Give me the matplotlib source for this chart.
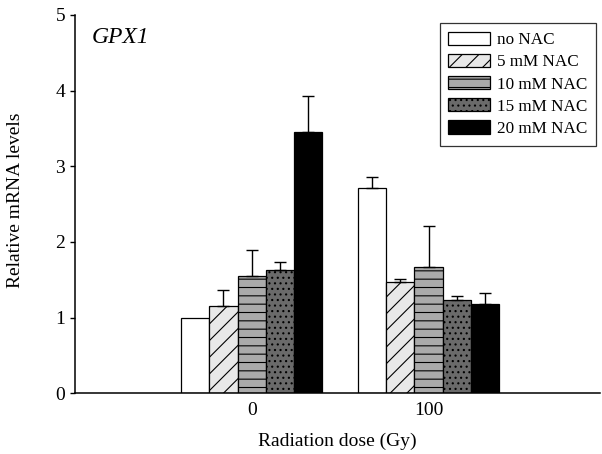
import numpy as np
import matplotlib
matplotlib.use("Agg")
import matplotlib.pyplot as plt

plt.rcParams['font.family'] = ['Liberation Serif', 'DejaVu Serif']
plt.rcParams['hatch.linewidth'] = 0.8

# data
doses = ['0', '100']
groups = ['no NAC', '5 mM NAC', '10 mM NAC', '15 mM NAC', '20 mM NAC']
means = [
    [1.00, 2.71],
    [1.16, 1.475],
    [1.555, 1.665],
    [1.635, 1.23],
    [3.45, 1.18],
]
errs = [
    [0.00, 0.145],
    [0.20, 0.04],
    [0.34, 0.55],
    [0.10, 0.06],
    [0.48, 0.15],
]
fills = ['white', '#e8e8e8', '#aaaaaa', '#6a6a6a', 'black']
hatches = [None, '//', '--', '...', None]

fig = plt.figure(figsize=(6.02, 4.54), dpi=100)
ax = fig.add_axes([75/602, 1-393.3/454, 525/602, 378.3/454])

x = np.arange(len(doses))
w = 0.16
for i in range(len(groups)):
    pos = x + (i - 2) * w
    ax.bar(pos, means[i], w, color=fills[i], edgecolor='black', linewidth=0.9,
           hatch=hatches[i], label=groups[i], zorder=2)
    # no error bar where none was shown
    e = np.array(errs[i])
    keep = e > 0
    ax.errorbar(pos[keep], np.array(means[i])[keep], yerr=[np.zeros(keep.sum()), e[keep]],
                fmt='none', ecolor='black', elinewidth=1.0, capsize=4, capthick=1.0, zorder=3)

ax.set_xlim(-1.0, 1.97)
ax.set_ylim(0, 5)
ax.set_xticks(x)
ax.set_xticklabels(doses)
ax.set_yticks(range(6))
ax.tick_params(axis='x', length=0, pad=6.5, labelsize=14)
ax.tick_params(axis='y', direction='out', length=3.6, width=1.0, pad=3.5, labelsize=14)
for s in ['top', 'right']:
    ax.spines[s].set_visible(False)
for s in ['left', 'bottom']:
    ax.spines[s].set_linewidth(1.1)

ax.set_xlabel('Radiation dose (Gy)', fontsize=14)
ax.xaxis.set_label_coords(0.5, -0.105)
ax.xaxis.label.set_va('top')
ax.set_ylabel('Relative mRNA levels', fontsize=14)
ax.yaxis.set_label_coords(-0.097, 0.51)

fig.text(92/602, 1-43/454, 'GPX1', fontsize=17, style='italic', va='baseline', ha='left')

leg = ax.legend(loc='upper right', bbox_to_anchor=(596/602, 1-23/454),
                bbox_transform=fig.transFigure, borderaxespad=0, fontsize=12.3,
                fancybox=False, frameon=True, handlelength=2.45, handleheight=0.82,
                labelspacing=0.33, handletextpad=0.4, borderpad=0.5)
leg.get_frame().set_edgecolor('black')
leg.get_frame().set_linewidth(0.9)

fig.savefig('out.png', dpi=100)
